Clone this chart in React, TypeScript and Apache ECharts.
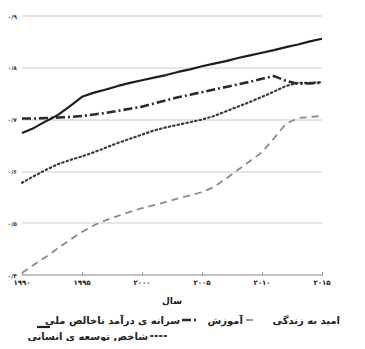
import React, { useEffect, useRef } from "react";
import * as echarts from "echarts";

const years = ["1990","1991","1992","1993","1994","1995","1996","1997","1998","1999","2000","2001","2002","2003","2004","2005","2006","2007","2008","2009","2010","2011","2012","2013","2014","2015"];

const lifeExpectancy = [0.674,0.684,0.697,0.709,0.726,0.744,0.752,0.758,0.765,0.771,0.776,0.781,0.786,0.792,0.797,0.803,0.808,0.813,0.819,0.824,0.829,0.834,0.840,0.845,0.851,0.856];
const education = [0.404,0.420,0.435,0.452,0.468,0.483,0.496,0.506,0.514,0.522,0.529,0.535,0.541,0.548,0.554,0.560,0.570,0.586,0.603,0.620,0.637,0.664,0.692,0.703,0.705,0.707];
const gniPerCapita = [0.702,0.702,0.703,0.704,0.705,0.707,0.710,0.713,0.717,0.721,0.725,0.731,0.737,0.743,0.748,0.753,0.758,0.763,0.768,0.773,0.779,0.784,0.775,0.769,0.770,0.771];
const hdi = [0.578,0.591,0.603,0.614,0.622,0.629,0.637,0.646,0.655,0.663,0.671,0.679,0.685,0.690,0.695,0.700,0.707,0.716,0.725,0.734,0.744,0.754,0.765,0.771,0.771,0.772];

const seriesNames = ["امید به زندگی", "آموزش", "سرانه ی درآمد ناخالص ملی", "شاخص توسعه ی انسانی"];
const xAxisName = "سال";
const yMin = 0.4;
const yMax = 0.9;
const yStep = 0.1;

const faDigits = "۰۱۲۳۴۵۶۷۸۹";
const toFa = (s: string) => s.replace(/[0-9]/g, (d) => faDigits[Number(d)]).replace(".", "/");

const FONT = "DejaVu Sans";

export default function App() {
  const ref = useRef<HTMLDivElement>(null);
  useEffect(() => {
    if (!ref.current) return;
    const chart = echarts.init(ref.current, null, { renderer: "svg" });
    const styles = [
      { color: "#1e1e1e", width: 2.2, type: "solid" as any, cap: "butt" },
      { color: "#8a8a8a", width: 1.8, type: [7, 5] as any, cap: "butt" },
      { color: "#2a2a2a", width: 2.6, type: [9, 3, 2, 3] as any, cap: "butt" },
      { color: "#3a3a3a", width: 2.2, type: [1.5, 3] as any, cap: "round" },
    ];
    const data = [lifeExpectancy, education, gniPerCapita, hdi];
    const order = [1, 3, 2, 0];
    const series = order.map((i) => ({
      name: seriesNames[i],
      type: "line",
      data: data[i],
      showSymbol: false,
      smooth: false,
      lineStyle: { color: styles[i].color, width: styles[i].width, type: styles[i].type, cap: styles[i].cap },
      itemStyle: { color: styles[i].color },
    }));

    const legendRow1 = 320;
    const legendRow2 = 336;
    const textStyle = (x: number, y: number, t: string) => ({
      type: "text",
      x,
      y,
      style: { text: t, fill: "#222", font: `bold 10px "${FONT}"`, align: "right", verticalAlign: "middle" },
    });
    const lineEl = (x1: number, x2: number, y: number, i: number) => ({
      type: "line",
      shape: { x1, y1: y, x2, y2: y },
      style: { stroke: styles[i].color, lineWidth: styles[i].width, lineDash: styles[i].type === "solid" ? null : styles[i].type, lineCap: styles[i].cap },
    });

    chart.setOption({
      animation: false,
      grid: { left: 22, right: 43, top: 16, bottom: 74, containLabel: false },
      xAxis: {
        type: "category",
        data: years,
        boundaryGap: false,
        name: xAxisName,
        nameLocation: "middle",
        nameGap: 21,
        nameTextStyle: { fontFamily: FONT, fontSize: 9, fontWeight: "bold", color: "#222" },
        axisLine: { lineStyle: { color: "#b5b5b5", width: 1.5 } },
        axisTick: { show: true, inside: true, length: 3, interval: 4, lineStyle: { color: "#999" } },
        axisLabel: {
          interval: 4,
          formatter: (v: string) => toFa(v),
          fontFamily: FONT,
          fontSize: 7,
          fontWeight: "bold",
          color: "#222",
          margin: 4,
        },
        splitLine: { show: false },
      },
      yAxis: {
        type: "value",
        min: yMin,
        max: yMax,
        interval: yStep,
        axisLine: { show: false },
        axisTick: { show: false },
        axisLabel: {
          formatter: (v: number) => toFa(v.toFixed(1)),
          fontFamily: FONT,
          fontSize: 6,
          fontWeight: "bold",
          color: "#333",
          margin: 5,
        },
        splitLine: { lineStyle: { color: "#dcdcdc", width: 1.5 } },
      },
      series,
      graphic: [
        textStyle(180, legendRow1, seriesNames[2]),
        lineEl(182, 197, legendRow1, 2),
        textStyle(243, legendRow1, seriesNames[1]),
        lineEl(246, 257, legendRow1, 1),
        textStyle(340, legendRow1, seriesNames[0]),
        lineEl(37, 50, legendRow1 + 7, 0),
        textStyle(148, legendRow2, seriesNames[3]),
        lineEl(151, 166, legendRow2, 3),
      ],
    });
    return () => chart.dispose();
  }, []);
  return <div ref={ref} style={{ width: 365, height: 349, margin: -8 }} />;
}
